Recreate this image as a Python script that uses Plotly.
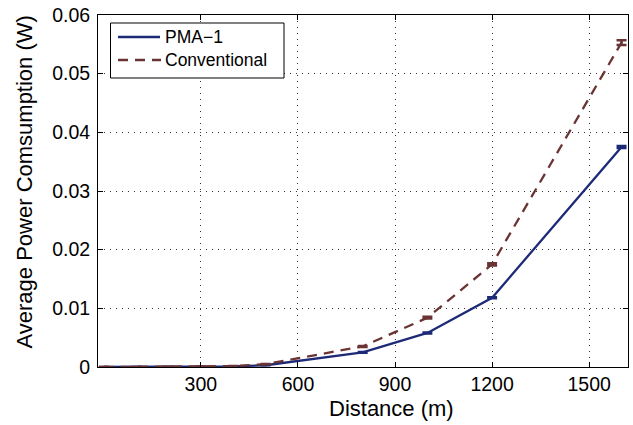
import plotly.graph_objects as go

distance = [0, 100, 200, 300, 400, 500, 800, 1000, 1200, 1600]
pma1 = [0, 0.00001, 0.00002, 0.00005, 0.0001, 0.0003, 0.0025, 0.0058, 0.0118, 0.0375]
conventional = [0, 0.00001, 0.00003, 0.00007, 0.00015, 0.0005, 0.0035, 0.0084, 0.0175, 0.0553]
pma1_err = [0, 0, 0, 0, 0, 0.00002, 0.00005, 0.00008, 0.0001, 0.00015]
conv_err = [0, 0, 0, 0, 0, 0.00003, 0.0001, 0.00015, 0.0002, 0.0004]

series_names = ["PMA\u22121", "Conventional"]
x_ticks = [300, 600, 900, 1200, 1500]
y_ticks = [0, 0.01, 0.02, 0.03, 0.04, 0.05, 0.06]
y_labels = ["0", "0.01", "0.02", "0.03", "0.04", "0.05", "0.06"]

blue = "#1d2a78"
brown = "#6b3434"
FONT = "Liberation Sans, Arial, sans-serif"
DASH = "10px,7px"

# plot area in pixels
L, R, T, B = 98, 628, 15, 367
W, H = 633, 425


def px(xp):
    return (xp - L) / (R - L)


def py(yp):
    return (B - yp) / (B - T)


fig = go.Figure()
fig.add_trace(go.Scatter(
    x=distance, y=pma1, mode="lines", name=series_names[0], showlegend=False,
    line=dict(color=blue, width=2.3),
    error_y=dict(type="data", array=pma1_err, color=blue, thickness=2.5, width=5),
))
fig.add_trace(go.Scatter(
    x=distance, y=conventional, mode="lines", name=series_names[1], showlegend=False,
    line=dict(color=brown, width=2.3, dash=DASH),
    error_y=dict(type="data", array=conv_err, color=brown, thickness=2.5, width=5),
))

axis_common = dict(
    showline=True, linecolor="black", linewidth=1, mirror="allticks",
    ticks="inside", ticklen=5, tickcolor="black",
    showgrid=True, gridcolor="#333333", griddash="1px,5px", gridwidth=1,
    zeroline=False,
    tickfont=dict(family=FONT, size=19.5, color="black"),
)

# legend box drawn as layout decoration
shapes = [
    dict(type="rect", xref="paper", yref="paper",
         x0=px(110.5), x1=px(284), y0=py(78), y1=py(23),
         line=dict(color="black", width=1), fillcolor="white", layer="above"),
    dict(type="line", xref="paper", yref="paper",
         x0=px(118), x1=px(160), y0=py(37), y1=py(37),
         line=dict(color=blue, width=2.3), layer="above"),
    dict(type="line", xref="paper", yref="paper",
         x0=px(118), x1=px(161), y0=py(60), y1=py(60),
         line=dict(color=brown, width=2.3, dash=DASH), layer="above"),
]
annotations = [
    dict(text=series_names[0], xref="paper", yref="paper", x=px(163), y=py(37),
         xanchor="left", yanchor="middle", showarrow=False,
         font=dict(family=FONT, size=17.5, color="black")),
    dict(text=series_names[1], xref="paper", yref="paper", x=px(163), y=py(60),
         xanchor="left", yanchor="middle", showarrow=False,
         font=dict(family=FONT, size=17.5, color="black")),
    dict(text="Distance (m)", xref="paper", yref="paper", x=px(391), y=py(408),
         xanchor="center", yanchor="middle", showarrow=False,
         font=dict(family=FONT, size=22, color="black")),
    dict(text="Average Power Comsumption (W)", xref="paper", yref="paper",
         x=px(24), y=py(182.5), textangle=-90,
         xanchor="center", yanchor="middle", showarrow=False,
         font=dict(family=FONT, size=22, color="black")),
]

fig.update_layout(
    width=W, height=H,
    margin=dict(l=L, r=W - R, t=T, b=H - B),
    paper_bgcolor="white", plot_bgcolor="white",
    font=dict(family=FONT, color="black"),
    xaxis=dict(range=[-18, 1620], tickvals=x_ticks, **axis_common),
    yaxis=dict(range=[0, 0.06], tickvals=y_ticks, ticktext=y_labels,
               ticklabelstandoff=3, **axis_common),
    shapes=shapes,
    annotations=annotations,
    showlegend=False,
)

fig.write_html("out.html")
